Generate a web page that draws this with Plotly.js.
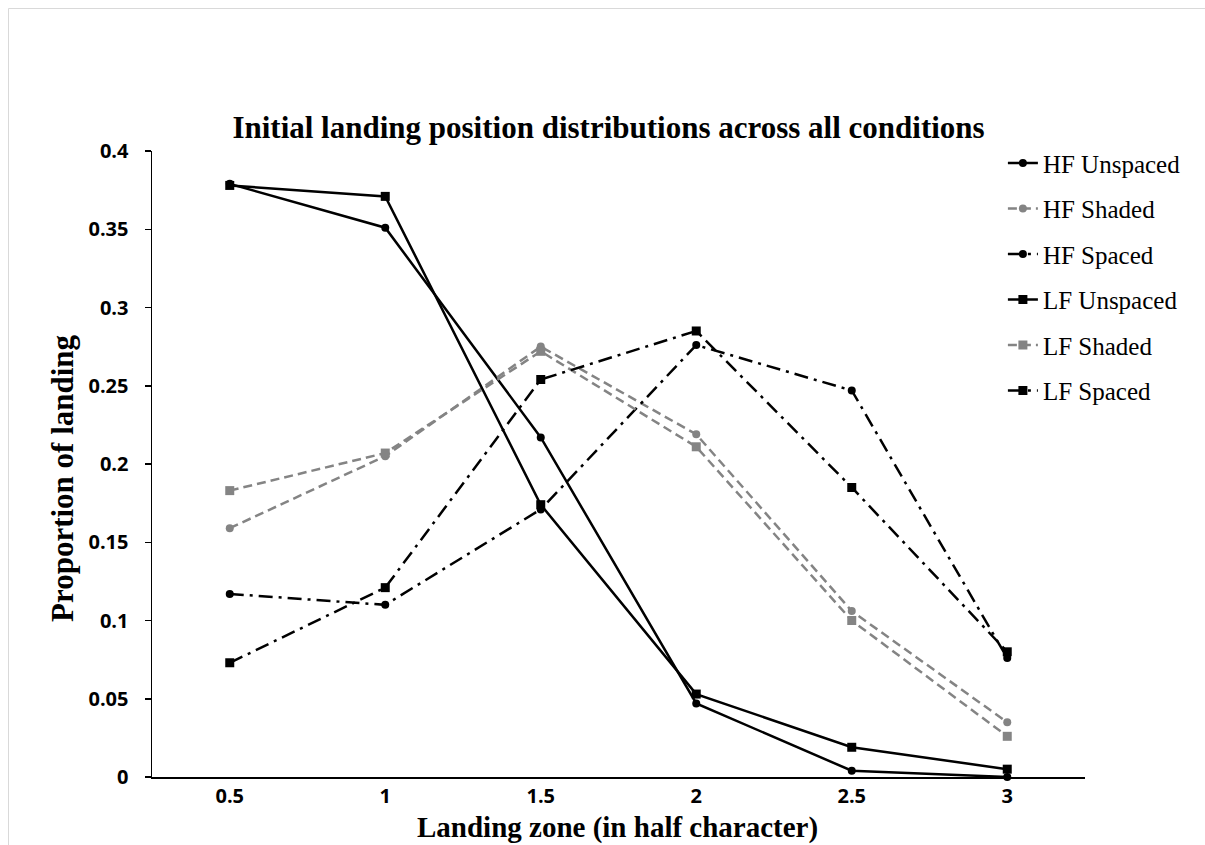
<!DOCTYPE html>
<html>
<head>
<meta charset="utf-8">
<script src="https://cdn.plot.ly/plotly-3.0.1.min.js"></script>
<style>html,body{margin:0;padding:0;background:#fff;}#chart{width:1205px;height:845px;}</style>
</head>
<body>
<div id="chart"></div>
<script>
var zones = ["0.5", "1", "1.5", "2", "2.5", "3"];
var hfUnspaced = [0.379, 0.351, 0.217, 0.047, 0.004, 0.000];
var hfShaded   = [0.159, 0.205, 0.275, 0.219, 0.106, 0.035];
var hfSpaced   = [0.117, 0.110, 0.171, 0.276, 0.247, 0.076];
var lfUnspaced = [0.378, 0.371, 0.174, 0.053, 0.019, 0.005];
var lfShaded   = [0.183, 0.207, 0.272, 0.211, 0.100, 0.026];
var lfSpaced   = [0.073, 0.121, 0.254, 0.285, 0.185, 0.080];

var BLACK = "#000000", GREY = "#848484";
var DASHDOT = "14px,6px,3px,6px", DASH = "9px,5px";

function tr(name, y, color, dash, symbol, msize, g) {
  return {
    type: "scatter", mode: "lines+markers", name: name, x: zones, y: y,
    legendgroup: g, cliponaxis: false,
    line: {color: color, width: 2.5, dash: dash},
    marker: {color: color, symbol: symbol, size: msize, line: {width: 0}}
  };
}

var data = [
  tr("HF Unspaced", hfUnspaced, BLACK, "solid", "circle", 8, "a"),
  tr("HF Shaded", hfShaded, GREY, DASH, "circle", 8, "b"),
  tr("HF Spaced", hfSpaced, BLACK, DASHDOT, "circle", 8, "c"),
  tr("LF Unspaced", lfUnspaced, BLACK, "solid", "square", 9, "d"),
  tr("LF Shaded", lfShaded, GREY, DASH, "square", 9, "e"),
  tr("LF Spaced", lfSpaced, BLACK, DASHDOT, "square", 9, "f")
];

var serif = "Liberation Serif, Times New Roman, serif";
var sans = "Open Sans, Arial, sans-serif";
var titleFont = {family: serif, size: 31, color: "#000", weight: 700};

var layout = {
  width: 1205, height: 845,
  margin: {l: 152, r: 120, t: 151, b: 68},
  paper_bgcolor: "#fff", plot_bgcolor: "#fff",
  title: {
    text: "Initial landing position distributions across all conditions",
    font: titleFont,
    x: 0.4893, xref: "paper", xanchor: "center",
    y: 1 - 127 / 845, yref: "container", yanchor: "middle"
  },
  xaxis: {
    type: "category", range: [-0.5, 5.5],
    showline: true, linecolor: "#000", linewidth: 1.5,
    showgrid: false, zeroline: false, ticks: "",
    tickfont: {family: sans, size: 20, color: "#000", weight: 700},
    ticklabelstandoff: 0,
    automargin: false
  },
  yaxis: {
    range: [0, 0.4], dtick: 0.05, tick0: 0,
    showline: true, linecolor: "#000", linewidth: 1.5,
    showgrid: false, zeroline: false,
    ticks: "outside", ticklen: 6, tickwidth: 1.5, tickcolor: "#000",
    tickfont: {family: sans, size: 20, color: "#000", weight: 700},
    ticklabelstandoff: 12,
    automargin: false
  },
  annotations: [{
    text: "Proportion of landing", textangle: -90,
    xref: "paper", yref: "paper", x: (62 - 152) / 933, y: (777 - 478) / 626,
    xanchor: "center", yanchor: "middle", showarrow: false, font: titleFont
  }, {
    text: "Landing zone (in half character)",
    xref: "paper", yref: "paper", x: 0.4985, y: (777 - 845) / 626,
    xanchor: "center", yanchor: "bottom", showarrow: false, borderpad: 0,
    font: {family: serif, size: 29, color: "#000", weight: 700}
  }],
  legend: {
    x: 0.912, xanchor: "left", y: 1.017, yanchor: "top",
    bgcolor: "rgba(0,0,0,0)", borderwidth: 0,
    font: {family: serif, size: 25, color: "#000"},
    tracegroupgap: 10, itemwidth: 30
  },
  shapes: [{
    type: "rect", xref: "paper", yref: "paper",
    x0: (8.5 - 152) / 933, x1: 1.4, y0: -0.5, y1: (777 - 8.5) / 626,
    line: {color: "#d9d9d9", width: 1}, fillcolor: "rgba(0,0,0,0)", layer: "below"
  }],
  showlegend: true
};

Plotly.newPlot("chart", data, layout, {displayModeBar: false, staticPlot: true});
</script>
</body>
</html>
